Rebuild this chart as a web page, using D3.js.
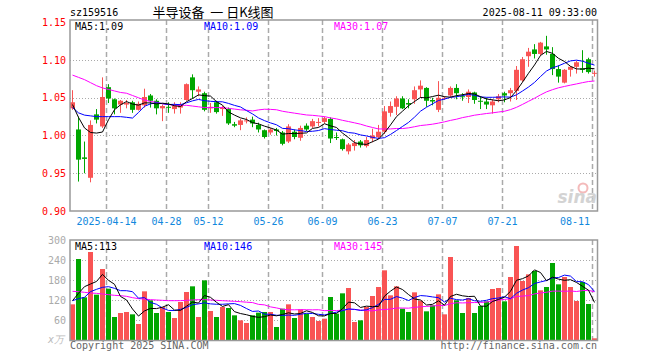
<!DOCTYPE html>
<html>
<head>
<meta charset="utf-8">
<script src="https://cdn.jsdelivr.net/npm/d3@7"></script>
<style>
body { margin:0; background:#fff; }
text { font-family: "DejaVu Sans Mono", monospace; font-size:10px; }
</style>
</head>
<body>
<script>
// trading days shown (2025)
var days = ["04-03","04-07","04-08","04-09","04-10","04-11","04-14","04-15","04-16","04-17","04-18",
 "04-21","04-22","04-23","04-24","04-25","04-28","04-29","04-30","05-06","05-07","05-08","05-09",
 "05-12","05-13","05-14","05-15","05-16","05-19","05-20","05-21","05-22","05-23",
 "05-26","05-27","05-28","05-29","05-30","06-03","06-04","06-05","06-06",
 "06-09","06-10","06-11","06-12","06-13","06-16","06-17","06-18","06-19","06-20",
 "06-23","06-24","06-25","06-26","06-27","06-30","07-01","07-02","07-03","07-04",
 "07-07","07-08","07-09","07-10","07-11","07-14","07-15","07-16","07-17","07-18",
 "07-21","07-22","07-23","07-24","07-25","07-28","07-29","07-30","07-31","08-01",
 "08-04","08-05","08-06","08-07","08-08","08-11"];

var open = [1.036,1.008,0.971,0.944,1.028,1.012,1.064,1.048,1.041,1.041,1.044,1.034,1.040,1.053,1.046,1.036,1.038,1.035,1.037,1.047,1.077,1.058,1.056,
 1.036,1.044,1.035,1.035,1.015,1.014,1.019,1.021,1.014,1.007,1.004,1.008,1.004,0.992,1.005,0.997,1.013,1.012,1.017,
 1.018,1.022,0.998,0.995,0.979,0.986,0.992,0.986,0.996,0.998,1.005,1.030,1.038,1.049,1.043,1.048,1.061,1.063,1.047,1.034,
 1.049,1.053,1.063,1.052,1.051,1.057,1.046,1.045,1.040,1.048,1.056,1.056,1.059,1.073,1.105,1.114,1.108,1.118,1.108,1.088,
 1.070,1.087,1.091,1.089,1.101,1.082];
var high = [1.060,1.025,0.992,1.020,1.035,1.077,1.068,1.049,1.047,1.047,1.046,1.045,1.062,1.055,1.048,1.041,1.044,1.044,1.044,1.069,1.081,1.065,1.058,
 1.043,1.046,1.039,1.037,1.018,1.022,1.024,1.025,1.017,1.008,1.010,1.010,1.006,1.015,1.008,1.013,1.016,1.022,1.023,
 1.025,1.024,1.004,0.996,0.990,0.994,0.994,0.998,1.009,1.014,1.039,1.045,1.052,1.052,1.048,1.065,1.073,1.064,1.050,1.072,
 1.052,1.065,1.068,1.056,1.061,1.058,1.052,1.050,1.048,1.055,1.058,1.063,1.092,1.104,1.116,1.121,1.124,1.132,1.117,1.093,
 1.088,1.092,1.099,1.113,1.103,1.086];
var low = [1.034,0.939,0.950,0.938,1.016,1.010,1.043,1.028,1.030,1.036,1.030,1.033,1.037,1.037,1.028,1.019,1.030,1.029,1.029,1.046,1.049,1.052,1.032,
 1.030,1.029,1.026,1.014,1.011,1.007,1.016,1.011,1.004,0.996,1.001,1.000,0.987,0.990,0.995,0.993,1.006,1.010,1.012,
 1.016,0.990,0.994,0.980,0.975,0.980,0.984,0.984,0.991,0.995,1.002,1.025,1.027,1.035,1.036,1.042,1.050,1.038,1.040,1.031,
 1.047,1.051,1.048,1.046,1.043,1.042,1.035,1.035,1.029,1.044,1.044,1.045,1.047,1.071,1.091,1.102,1.106,1.107,1.080,1.070,
 1.069,1.078,1.082,1.083,1.082,1.078];
var close = [1.044,0.968,0.969,1.014,1.021,1.051,1.049,1.036,1.046,1.043,1.034,1.042,1.051,1.046,1.036,1.039,1.037,1.039,1.041,1.068,1.060,1.061,1.034,
 1.038,1.031,1.037,1.016,1.013,1.020,1.020,1.016,1.008,0.998,1.008,1.006,0.989,1.012,0.998,1.010,1.008,1.019,1.018,
 1.023,0.996,0.997,0.982,0.988,0.990,0.987,0.994,1.000,1.005,1.032,1.039,1.049,1.036,1.041,1.060,1.066,1.046,1.045,1.050,
 1.050,1.063,1.056,1.051,1.058,1.047,1.045,1.041,1.045,1.052,1.053,1.060,1.087,1.101,1.111,1.108,1.123,1.114,1.088,1.078,
 1.087,1.091,1.097,1.087,1.084,1.083];

// volume, 万
var volume = [107,243,128,264,136,213,154,69,81,84,77,48,146,119,81,99,84,66,114,144,161,69,179,
 87,69,99,96,74,59,51,74,82,84,84,39,94,107,66,92,79,69,57,
 64,129,79,140,156,54,59,99,132,159,209,134,161,94,84,143,118,86,104,137,
 77,249,119,81,126,81,102,116,153,156,116,189,282,177,197,207,149,159,231,167,
 189,159,117,174,108,5];

var ma5 = [1.041,1.024,1.010,1.004,1.0032,1.0046,1.0208,1.0342,1.0406,1.045,1.0416,1.0402,1.0432,1.0432,1.0418,1.0428,1.0418,1.0394,1.0384,1.0448,1.049,1.0538,1.0528,
 1.0522,1.0448,1.0402,1.0312,1.027,1.0234,1.0212,1.017,1.0154,1.0124,1.010,1.0072,1.0018,1.0026,1.0026,1.003,1.0034,1.0094,1.0106,
 1.0156,1.0128,1.0106,1.0032,0.9972,0.9906,0.9888,0.9882,0.9918,0.9952,1.0036,1.014,1.025,1.0322,1.0394,1.045,1.0504,1.0498,1.0516,1.0534,
 1.0514,1.0508,1.0528,1.054,1.0556,1.055,1.0514,1.0484,1.0472,1.046,1.0472,1.0502,1.0594,1.0706,1.0824,1.0934,1.106,1.1114,1.1088,1.1022,
 1.098,1.0916,1.0882,1.088,1.0892,1.0884];
var ma10 = [1.037,1.030,1.027,1.026,1.025,1.025,1.025,1.025,1.025,1.0241,1.0231,1.0305,1.0387,1.0419,1.0434,1.0422,1.041,1.0413,1.0408,1.0433,1.0459,1.0478,1.0461,
 1.0453,1.0448,1.0446,1.0425,1.0399,1.0378,1.033,1.0286,1.0233,1.0197,1.0167,1.0142,1.0094,1.009,1.0075,1.0065,1.0053,1.0056,1.0066,
 1.0091,1.0079,1.007,1.0063,1.0039,1.0031,1.0008,0.9994,0.9975,0.9962,0.9971,1.0014,1.0066,1.012,1.0173,1.0243,1.0322,1.0374,1.0419,1.0464,
 1.0482,1.0506,1.0513,1.0528,1.0545,1.0532,1.0511,1.0506,1.0506,1.0508,1.0511,1.0508,1.0539,1.0589,1.0642,1.0703,1.0781,1.0854,1.0897,1.0923,
 1.0957,1.0988,1.0998,1.0984,1.0957,1.0932];
var ma30 = [1.080,1.077,1.074,1.070,1.066,1.063,1.061,1.059,1.057,1.056,1.053,1.050,1.047,1.045,1.044,1.042,1.041,1.040,1.040,1.040,1.039,1.038,1.037,
 1.037,1.037,1.037,1.036,1.035,1.034,1.0335,1.0325,1.0339,1.0348,1.0346,1.0341,1.0321,1.0308,1.0296,1.0284,1.0272,1.0267,1.0259,
 1.025,1.0233,1.022,1.0201,1.0185,1.0168,1.015,1.0126,1.0106,1.0087,1.0086,1.0087,1.0093,1.0092,1.0101,1.0116,1.0132,1.014,1.015,1.0164,
 1.0181,1.02,1.0216,1.0237,1.0252,1.0269,1.028,1.0291,1.03,1.0311,1.0321,1.0343,1.0373,1.0412,1.0453,1.0493,1.0538,1.0578,1.0607,1.0632,
 1.065,1.0667,1.0683,1.07,1.0715,1.0722];

var vma5 = [118,140,160,168,175.6,196.8,179,167.2,130.6,120.2,93,71.8,87.2,94.8,94.2,98.6,105.8,89.8,88.8,101.4,113.8,110.8,133.4,
 128,113,100.6,106,85,79.4,75.8,70.8,68,70,75,72.6,76.6,81.6,78,79.6,87.6,82.6,72.6,
 72.2,79.6,79.6,93.8,113.6,111.6,97.6,101.6,100,100.6,131.6,146.6,159,151.4,136.4,123.2,120,105,107,117.6,
 104.4,130.6,137.2,132.6,130.4,131.2,101.8,101.2,115.6,121.6,128.6,146,179.2,184,192.2,210.4,202.4,177.8,188.6,182.6,
 179,181,172.6,161.2,149.4,112.6];
var vma10 = [118,124,128,145,152,158,160,155,148,147.9,144.9,125.4,127.2,112.7,107.2,95.8,88.8,88.5,91.8,97.8,106.2,108.3,111.6,
 108.4,107.2,107.2,108.4,109.2,103.7,94.4,85.7,87,77.5,77.2,74.2,73.7,74.8,74,77.3,80.1,79.6,77.1,
 75.1,79.6,83.6,88.2,93.1,91.9,88.6,90.6,96.9,107.1,121.6,122.1,130.3,125.7,118.5,127.4,133.3,132,129.2,127,
 113.8,125.3,121.1,119.8,124,117.8,116.2,119.2,124.1,126,129.9,123.9,140.2,149.8,156.9,169.5,174.2,178.5,186.3,187.4,
 194.7,191.7,175.2,174.9,166,145.8];
var vma30 = [146,145,143,141,140,138,136,134,133,131,127,124,123,121,120,119,118,118,118,119,120,121,121,
 120,119,118,117,116,115,113.4,112.3,106.9,105.4,99.4,96.2,92.2,90.7,90.6,90.9,90.8,90.5,90.8,
 88.1,88.4,88.3,89.7,92.1,91.7,89.9,88.4,87.4,90.4,91.4,93,96,95.9,95.5,97.8,99.7,100.9,101.9,103.7,
 103.5,109,111.7,111.2,111.9,112.4,112.7,113.9,116.7,120,121.8,123.8,130.5,131.8,133.1,138.2,141.2,143.2,146.5,146.8,
 146.1,147,145.5,148.2,149,144.7];

var tickDays = ["04-14","04-28","05-12","05-26","06-09","06-23","07-07","07-21","08-11"];
var tickLabels = ["2025-04-14","04-28","05-12","05-26","06-09","06-23","07-07","07-21","08-11"];
var priceTicks = [0.90,0.95,1.00,1.05,1.10,1.15];
var volTicks = [60,120,180,240,300];

var red = "#f95454", green = "#00a600";
var grid = "#aaaaaa";

var svg = d3.select("body").append("svg")
  .attr("width", 660).attr("height", 360);

var x = d3.scaleBand().domain(days).range([69.5, 597.5]);
var y = d3.scaleLinear().domain([0.90, 1.15]).range([211, 22.25]);
var vy = d3.scaleLinear().domain([0, 300]).range([340, 240]);

function cx(d) { return x(d) + 3; }
function isUp(i) { return close[i] >= open[i]; }
function col(d, i) { return isUp(i) ? red : green; }

// header
svg.append("text").attr("x", 70).attr("y", 16).text("sz159516");
svg.append("text").attr("x", 213).attr("y", 17).attr("text-anchor", "middle")
  .style("font-family", "'Noto Sans CJK SC', sans-serif").style("font-size", "13px")
  .style("white-space", "pre")
  .text("半导设备  一 日K线图");
svg.append("text").attr("x", 597).attr("y", 16).attr("text-anchor", "end")
  .text("2025-08-11 09:33:00");

// grid: horizontal dotted
svg.selectAll(".pgrid").data([0.95, 1.00, 1.05, 1.10]).enter().append("line")
  .attr("x1", 70).attr("x2", 597)
  .attr("y1", function(d) { return Math.round(y(d)) + 0.5; })
  .attr("y2", function(d) { return Math.round(y(d)) + 0.5; })
  .attr("stroke", grid).attr("stroke-dasharray", "1,2");
svg.selectAll(".vgrid").data([60, 120, 180, 240]).enter().append("line")
  .attr("x1", 70).attr("x2", 597)
  .attr("y1", function(d) { return Math.round(vy(d)) + 0.5; })
  .attr("y2", function(d) { return Math.round(vy(d)) + 0.5; })
  .attr("stroke", grid).attr("stroke-dasharray", "1,2");

// vertical dashed lines at date ticks
[[20, 211], [240, 340]].forEach(function(r) {
  svg.selectAll(null).data(tickDays).enter().append("line")
    .attr("x1", function(d) { return x(d) + 1; })
    .attr("x2", function(d) { return x(d) + 1; })
    .attr("y1", r[0]).attr("y2", r[1])
    .attr("stroke", grid).attr("stroke-width", 1.5).attr("stroke-dasharray", "5,3");
});

// price axis labels
svg.selectAll(".plab").data(priceTicks).enter().append("text")
  .attr("x", 66).attr("y", function(d) { return y(d) + 3.5; })
  .attr("text-anchor", "end").attr("fill", "#ff0000")
  .text(function(d) { return d.toFixed(2); });

// volume axis labels
svg.selectAll(".vlab").data(volTicks).enter().append("text")
  .attr("x", 66).attr("y", function(d) { return vy(d) + 3.5; })
  .attr("text-anchor", "end").attr("fill", "#aaaaaa")
  .text(function(d) { return d; });
svg.append("text").attr("x", 64).attr("y", 343).attr("text-anchor", "end")
  .attr("fill", "#bbbbbb").style("font-style", "italic").text("x万");

// date labels
svg.selectAll(".dlab").data(tickDays).enter().append("text")
  .attr("x", function(d, i) { return i == tickDays.length - 1 ? 590 : x(d) + 1; })
  .attr("y", 224.5)
  .attr("text-anchor", function(d, i) { return i == tickDays.length - 1 ? "end" : "middle"; })
  .attr("fill", "#1188dd")
  .text(function(d, i) { return tickLabels[i]; });

// sina watermark
var logo = svg.append("g").attr("opacity", 0.9);
logo.append("circle").attr("cx", 583).attr("cy", 188).attr("r", 4.5)
  .attr("fill", "none").attr("stroke", "#f3b3b3").attr("stroke-width", 2);
logo.append("text").attr("x", 597).attr("y", 203).attr("text-anchor", "end")
  .style("font-family", "'DejaVu Sans', sans-serif").style("font-size", "17px")
  .style("font-weight", "bold").style("font-style", "italic")
  .attr("fill", "#cfcfcf").text("sina");

// candles
svg.selectAll(".wick").data(days).enter().append("line")
  .attr("x1", cx).attr("x2", cx)
  .attr("y1", function(d, i) { return y(high[i]); })
  .attr("y2", function(d, i) { return y(low[i]); })
  .attr("stroke", col);
svg.selectAll(".body").data(days).enter().append("rect")
  .attr("x", function(d) { return x(d) + 0.5; })
  .attr("width", 5)
  .attr("y", function(d, i) { return y(Math.max(open[i], close[i])); })
  .attr("height", function(d, i) { return Math.max(1, Math.abs(y(open[i]) - y(close[i]))); })
  .attr("fill", col);

// volume bars
svg.selectAll(".vbar").data(days).enter().append("rect")
  .attr("x", function(d) { return x(d) + 0.5; })
  .attr("width", 5)
  .attr("y", function(d, i) { return vy(volume[i]); })
  .attr("height", function(d, i) { return 340 - vy(volume[i]); })
  .attr("fill", col);

// moving averages
function maLine(vals, scale, color) {
  var line = d3.line()
    .x(function(d, i) { return cx(days[i]); })
    .y(function(d) { return scale(d); });
  svg.append("path").datum(vals).attr("d", line)
    .attr("fill", "none").attr("stroke", color).attr("stroke-width", 1);
}
maLine(ma30, y, "#ff00ff");
maLine(ma10, y, "#0000ff");
maLine(ma5, y, "#000000");
maLine(vma30, vy, "#ff00ff");
maLine(vma10, vy, "#0000ff");
maLine(vma5, vy, "#000000");

// panel borders
svg.append("rect").attr("x", 70).attr("y", 20).attr("width", 527.5).attr("height", 191)
  .attr("fill", "none").attr("stroke", "#999").attr("stroke-width", 1.5);
svg.append("rect").attr("x", 70).attr("y", 240).attr("width", 527.5).attr("height", 100.5)
  .attr("fill", "none").attr("stroke", "#999").attr("stroke-width", 1.5);

// legends
var last = days.length - 1;
svg.append("text").attr("x", 75).attr("y", 30).text("MA5:" + ma5[last].toFixed(2));
svg.append("text").attr("x", 204).attr("y", 30).attr("fill", "#0000ff").text("MA10:" + ma10[last].toFixed(2));
svg.append("text").attr("x", 334).attr("y", 30).attr("fill", "#ff00ff").text("MA30:" + ma30[last].toFixed(2));
svg.append("text").attr("x", 75).attr("y", 250).text("MA5:" + Math.round(vma5[last]));
svg.append("text").attr("x", 204).attr("y", 250).attr("fill", "#0000ff").text("MA10:" + Math.round(vma10[last]));
svg.append("text").attr("x", 334).attr("y", 250).attr("fill", "#ff00ff").text("MA30:" + Math.round(vma30[last]));

// footer
svg.append("text").attr("x", 70).attr("y", 349).attr("fill", "#666").text("Copyright 2025 SINA.COM");
svg.append("text").attr("x", 597).attr("y", 349).attr("text-anchor", "end").attr("fill", "#666")
  .text("http://finance.sina.com.cn");
</script>
</body>
</html>
